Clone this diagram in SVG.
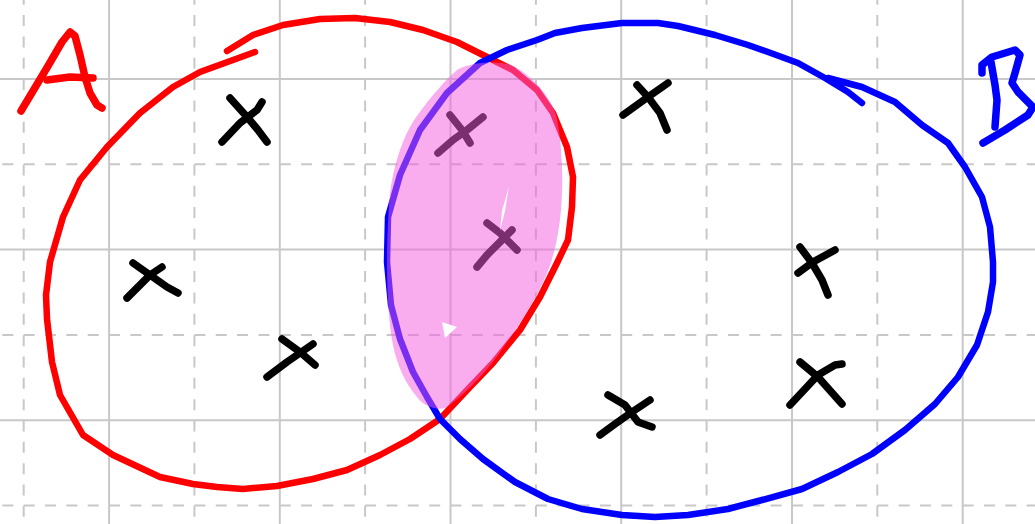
<svg xmlns="http://www.w3.org/2000/svg" width="1035" height="524" viewBox="0 0 1035 524">
<style>
.g{stroke:#c8c8c8;stroke-width:2;fill:none}
.d{stroke-dasharray:11 10.34}
.pen{fill:none;stroke-linecap:round;stroke-linejoin:round}
.red{stroke:#ff0000;stroke-width:6.5}
.blue{stroke:#0000ff;stroke-width:6.5}
.lab{stroke-width:7.5}
.x{stroke:#000000;stroke-width:7.5}
</style>
<rect width="1035" height="524" fill="#ffffff"/>
<g id="grid">
<g class="g d">
<path d="M23.7 -6.3V524M194.4 -6.3V524M365.1 -6.3V524M535.9 -6.3V524M706.6 -6.3V524M877.3 -6.3V524"/>
<path d="M2.36 164.3H1035M2.36 334.9H1035M2.36 505.5H1035"/>
</g>
<g class="g">
<path d="M109.1 0V524M279.8 0V524M450.5 0V524M621.2 0V524M792 0V524M962.7 0V524"/>
<path d="M0 79H1035M0 249.6H1035M0 420.2H1035"/>
</g>
</g>
<g id="elements">
<polyline class="pen x" points="230,98 248,118 258,130 267,142"/>
<polyline class="pen x" points="222,142 240,123 257,110 262,102"/>
<polyline class="pen x" points="133,263 150,275 167,287 178,293"/>
<polyline class="pen x" points="127,298 140,285 150,275 162,267"/>
<polyline class="pen x" points="282,339 300,352 315,365"/>
<polyline class="pen x" points="267,377 287,362 313,344"/>
<polyline class="pen x" points="623,115 648,97 668,83"/>
<polyline class="pen x" points="637,85 648,97 660,113 667,130"/>
<polyline class="pen x" points="800,247 812,263 822,280 828,295"/>
<polyline class="pen x" points="798,273 813,262 835,250"/>
<polyline class="pen x" points="790,405 805,389 818,375 835,365 842,364"/>
<polyline class="pen x" points="800,362 818,377 842,404"/>
<polyline class="pen x" points="600,435 615,424 632,412 650,400"/>
<polyline class="pen x" points="608,395 625,405 638,422 652,427"/>
<polyline class="pen x" points="450,115 462,130 470,143"/>
<polyline class="pen x" points="438,153 453,140 467,130 483,117"/>
<polyline class="pen x" points="487,223 500,233 517,250"/>
<polyline class="pen x" points="477,267 487,255 500,242 512,230"/>
</g>
<g id="set-A">
<polyline class="pen red" points="227,51 253,35 283,25 320,19 355,18 390,22 423,30 457,42 487,57 513,70 537,90 553,113 567,147 573,177 572,207 568,240 557,263 540,297 520,330 493,363 470,387 440,419 410,439 380,455 347,470 313,479 277,486 243,489 217,487 193,484 160,477 113,455 83,435 60,395 52,362 47,319 46,295 50,262 63,217 80,180 107,147 140,113 173,87 200,72 233,60 255,52"/>
<polyline class="pen red lab" points="21,111 33,91 48,66 62,42 70,32 75,36 80,55 85,77 90,93 97,105 102,108"/>
<polyline class="pen red lab" points="47,80 70,77 93,78"/>
</g>
<g id="set-B">
<polyline class="pen blue" points="828,78 862,87 895,102 922,125 948,143 965,167 982,197 990,227 993,262 993,282 988,312 977,345 958,377 935,404 905,430 872,454 838,472 802,489 762,500 728,509 688,515 655,517 622,515 582,509 548,499 515,482 483,459 460,439 440,419 427,397 413,372 400,339 391,305 387,262 388,217 400,175 420,130 447,93 480,63 507,50 537,40 555,33 582,28 622,23 658,23 678,26 715,35 748,45 768,52 798,63 825,78 848,92 862,103"/>
<polyline class="pen blue lab" points="982,73 982,65 992,57 1015,50 1020,55 1015,73 1012,83 1018,92 1033,107 1028,115 1005,130 983,143"/>
<polyline class="pen blue lab" points="991,62 995,85 997,100 995,127"/>
</g>
<g id="intersection">
<path fill="#f45ce0" fill-opacity="0.5" d="M457,70 C470,62 500,60 513,66 C530,74 550,95 556,115 C561,135 563,170 562,193 C561,225 555,255 547,273 C538,295 520,325 505,345 C490,368 470,390 447,407 C440,411 425,408 417,397 C405,383 397,365 393,345 C389,325 387,297 387,263 C387,240 388,215 390,193 C393,170 400,145 410,127 C420,110 440,85 457,70 Z"/>
<polygon fill="#ffffff" points="509,186 505,211 500,231 502,211"/>
<polygon fill="#ffffff" points="442,322 457,327 445,338"/>
</g>
</svg>
